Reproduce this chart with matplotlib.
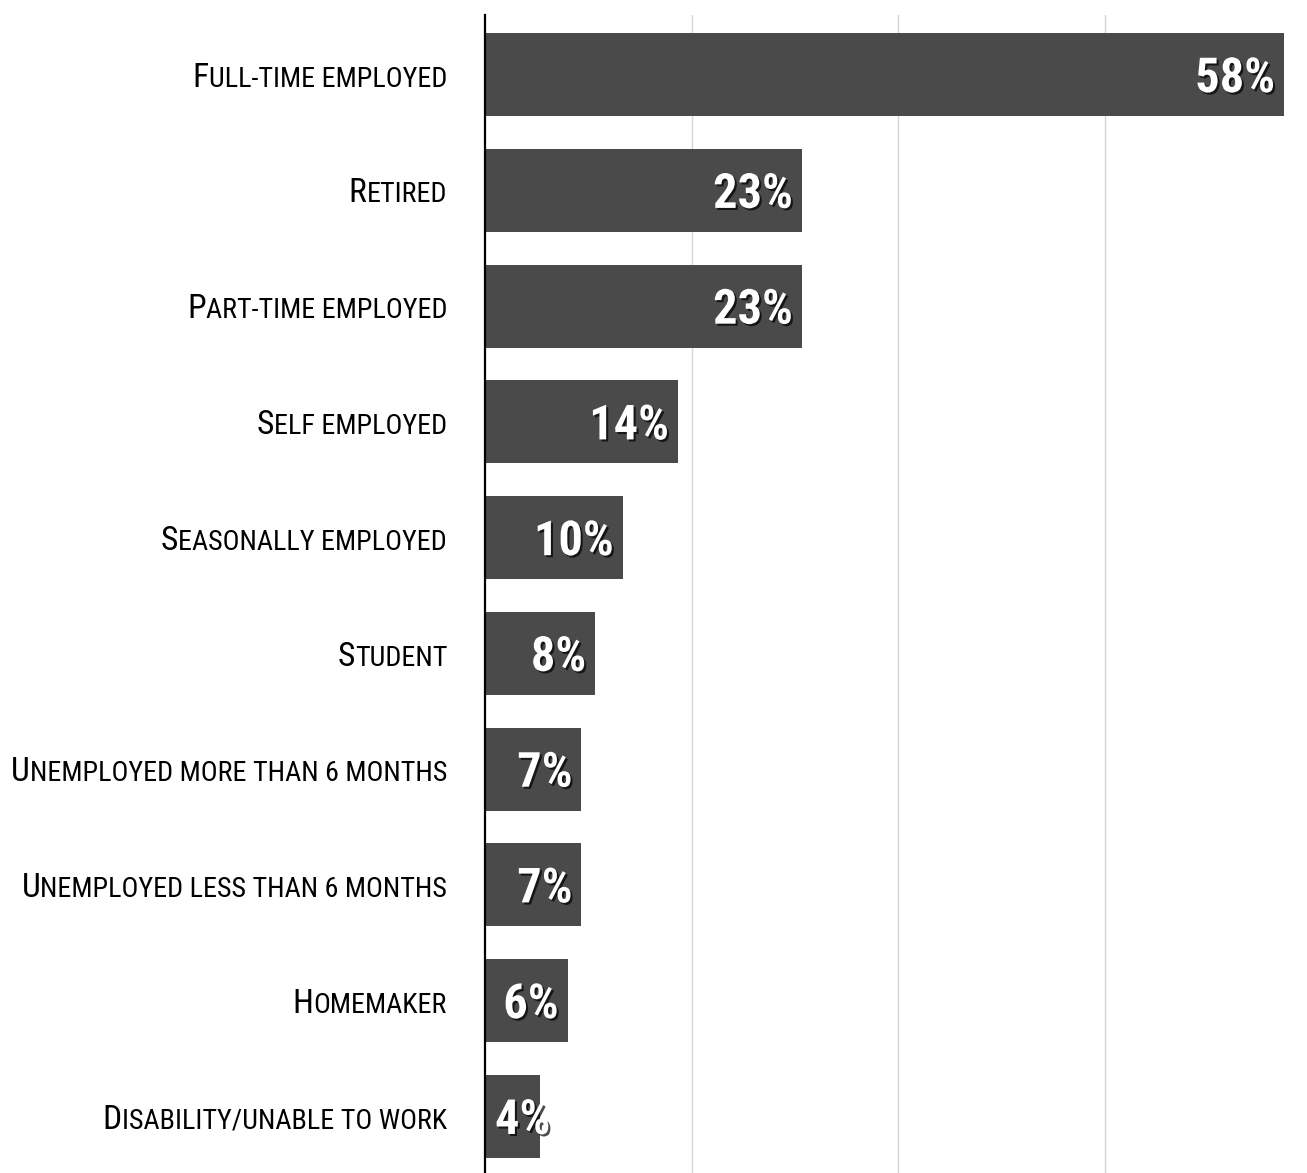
import os
import matplotlib
matplotlib.use("Agg")
import matplotlib.pyplot as plt
import matplotlib.patheffects as pe
from matplotlib import font_manager
from matplotlib.font_manager import FontProperties
from matplotlib.transforms import offset_copy

categories = ["Full-time employed", "Retired", "Part-time employed", "Self employed",
              "Seasonally employed", "Student", "Unemployed more than 6 months",
              "Unemployed less than 6 months", "Homemaker", "Disability/unable to work"]
values = [58, 23, 23, 14, 10, 8, 7, 7, 6, 4]
grid_ticks = [15, 30, 45]


def narrow_font(bold):
    # look for a narrow / condensed face, fall back to DejaVu Sans
    good = []
    for f in font_manager.fontManager.ttflist:
        base = os.path.basename(f.fname).lower()
        nm = f.name.lower()
        if "italic" in base or "oblique" in base or f.style != "normal":
            continue
        if not ("narrow" in nm or "condensed" in nm or "narrow" in base or "condensed" in base):
            continue
        isbold = "bold" in base or (isinstance(f.weight, int) and f.weight >= 600) or f.weight == "bold"
        if isbold != bold:
            continue
        rank = 9
        for i, key in enumerate(["liberation", "roboto", "opensans", "open sans", "dejavu"]):
            if key in nm.replace(" ", "") or key in base:
                rank = i
                break
        good.append((rank, f.fname))
    if good:
        good.sort()
        return good[0][1]
    return None


def fprops(path, size, bold=False):
    if path:
        return FontProperties(fname=path, size=size)
    return FontProperties(family="DejaVu Sans", size=size, weight="bold" if bold else "normal")


reg_path = narrow_font(False)
bold_path = narrow_font(True)

W, H, DPI = 1307, 1173, 100
fig = plt.figure(figsize=(W / DPI, H / DPI), dpi=DPI)
ax = fig.add_axes([485 / W, 0, 1 - 485 / W, (H - 15) / H])

ypos = list(range(len(categories)))
ax.barh(ypos, values, height=0.717, color="#4a4a4a", zorder=2)
ax.set_xlim(0, 59.65)
ax.set_ylim(9.49, -0.514)

for g in grid_ticks:
    ax.axvline(g, color="#d4d4d4", lw=1, zorder=1)

for s in ["top", "right", "bottom"]:
    ax.spines[s].set_visible(False)
ax.spines["left"].set_linewidth(1.6)
ax.spines["left"].set_color("black")
ax.spines["left"].set_zorder(3)
ax.set_xticks([])
ax.set_yticks([])

renderer = fig.canvas.get_renderer()


def text_width(s, fp):
    t = fig.text(0, 0, s, fontproperties=fp)
    w = t.get_window_extent(renderer).width
    t.remove()
    return w


# size the fake small caps so the longest label fits in ~437 px
ratio = 1.19
small = 20.0
widest = max(text_width(c[1:].upper(), fprops(reg_path, small)) +
             text_width(c[0].upper(), fprops(reg_path, small * ratio)) for c in categories)
small = min(25.5, small * 437 / widest)
big = small * ratio
cap_big = big * DPI / 72 * 0.73

ytrans = ax.get_yaxis_transform()
for y, cat in zip(ypos, categories):
    tr = offset_copy(ytrans, fig=fig, x=-38, y=-cap_big / 2, units="dots")
    rest = ax.text(0, y, cat[1:].upper(), transform=tr, ha="right", va="baseline",
                   fontproperties=fprops(reg_path, small), color="black")
    w = rest.get_window_extent(renderer).width
    tr2 = offset_copy(ytrans, fig=fig, x=-38 - w, y=-cap_big / 2, units="dots")
    ax.text(0, y, cat[0].upper(), transform=tr2, ha="right", va="baseline",
            fontproperties=fprops(reg_path, big), color="black")

# value labels, white with a shadow, sized so "58%" is about 80 px wide
vsize = 30.0
vsize = min(35.0, vsize * 80 / text_width("58%", fprops(bold_path, vsize, True)))
cap_v = vsize * DPI / 72 * 0.73
shadow = [pe.SimplePatchShadow(offset=(1.5, -1.5), shadow_rgbFace="black", alpha=0.7), pe.Normal()]
x0 = ax.transData.transform((0, 0))[0]
for y, v in zip(ypos, values):
    tr = offset_copy(ax.transData, fig=fig, x=-9, y=-cap_v / 2, units="dots")
    t = ax.text(v, y, f"{v}%", transform=tr, ha="right", va="baseline",
                fontproperties=fprops(bold_path, vsize, True), color="white",
                path_effects=shadow, zorder=4)
    bb = t.get_window_extent(renderer)
    if bb.x0 < x0 + 10:
        shift = x0 + 10 - bb.x0
        t.set_transform(offset_copy(ax.transData, fig=fig, x=-9 + shift, y=-cap_v / 2, units="dots"))

fig.savefig("out.png", dpi=DPI)
